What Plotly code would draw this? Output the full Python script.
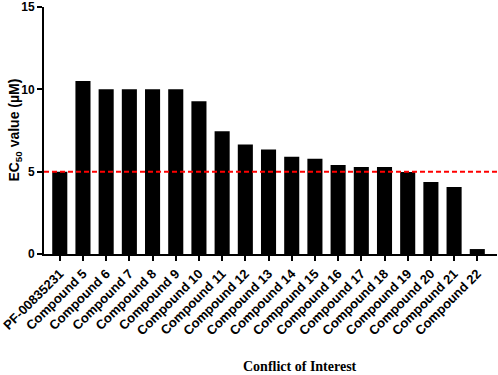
import plotly.graph_objects as go

categories = ["PF-00835231", "Compound 5", "Compound 6", "Compound 7", "Compound 8",
              "Compound 9", "Compound 10", "Compound 11", "Compound 12", "Compound 13",
              "Compound 14", "Compound 15", "Compound 16", "Compound 17", "Compound 18",
              "Compound 19", "Compound 20", "Compound 21", "Compound 22"]
ec50_values = [5.0, 10.5, 10.0, 10.0, 10.0, 10.0, 9.27, 7.46, 6.65, 6.35,
               5.91, 5.79, 5.40, 5.28, 5.28, 4.98, 4.37, 4.07, 0.3]
threshold = 5
y_ticks = [0, 5, 10, 15]

fig = go.Figure()
fig.add_trace(go.Bar(
    x=list(range(len(categories))), y=ec50_values,
    marker=dict(color="black", line=dict(width=0)),
    showlegend=False,
))

fig.add_shape(type="line", xref="paper", yref="y", x0=0, x1=1,
              y0=threshold, y1=threshold,
              line=dict(color="#ff0000", width=2, dash="5px,3px"))

sans = "Liberation Sans, Arial, sans-serif"

fig.update_layout(
    width=498, height=375,
    margin=dict(l=44, r=1, t=7, b=121),
    plot_bgcolor="white", paper_bgcolor="white",
    bargap=0.35,
    xaxis=dict(
        automargin=False,
        tickmode="array", tickvals=list(range(len(categories))),
        ticktext=[f"<b>{c}</b>" for c in categories],
        tickangle=-45, tickfont=dict(family=sans, size=13, color="black"),
        range=[-0.68, len(categories) - 1 + 0.85],
        showline=True, linecolor="black", linewidth=2,
        ticks="outside", ticklen=5, tickwidth=2, tickcolor="black",
        showgrid=False, zeroline=False,
    ),
    yaxis=dict(
        automargin=False,
        range=[0, 15], tickvals=y_ticks,
        ticktext=[f"<b>{v}</b>" for v in y_ticks],
        tickfont=dict(family=sans, size=12, color="black"),
        showline=True, linecolor="black", linewidth=2,
        ticks="outside", ticklen=5, tickwidth=2, tickcolor="black",
        showgrid=False, zeroline=False,
    ),
    annotations=[
        dict(
            text="<b>EC<sub>50</sub> value (µM)</b>", xref="paper", yref="paper",
            x=-0.066, y=0.5, xanchor="center", yanchor="middle", textangle=-90,
            showarrow=False,
            font=dict(family=sans, size=14, color="black"),
        ),
        dict(
            text="<b>Conflict of Interest</b>", xref="paper", yref="paper",
            x=0.565, y=-0.456, xanchor="center", yanchor="middle", showarrow=False,
            font=dict(family="Liberation Serif, Times New Roman, serif", size=14, color="black"),
        ),
    ],
)

fig.write_html(
    "out.html",
    config={"displayModeBar": False},
    post_script="document.body.style.margin='0';document.body.style.padding='0';document.body.style.overflow='hidden';",
)
